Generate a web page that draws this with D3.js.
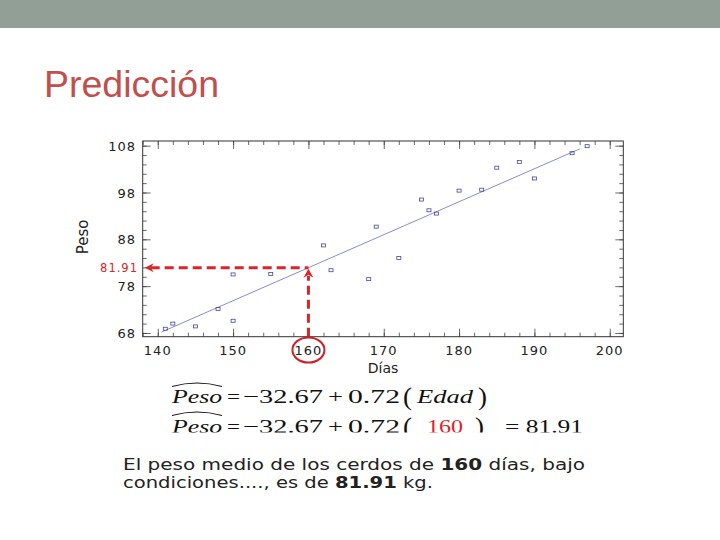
<!DOCTYPE html>
<html lang="es">
<head>
<meta charset="UTF-8">
<title>Predicción</title>
<style>
  body { margin: 0; background: #fff; overflow: hidden; }
  svg { display: block; }
</style>
</head>
<body>
<svg id="slide" width="720" height="540"></svg>
<script src="https://d3js.org/d3.v7.min.js"></script>
<script>
// data
const dias = [141, 142, 145, 148, 150, 150, 155, 162, 163, 168, 169, 172, 175, 176, 177, 180, 183, 185, 188, 190, 195, 197];
const peso = [68.9, 70.0, 69.4, 73.1, 70.6, 80.5, 80.6, 86.7, 81.4, 79.5, 90.7, 84.0, 96.5, 94.2, 93.5, 98.4, 98.6, 103.3, 104.5, 101.0, 106.4, 107.9];
const xTicks = [140, 150, 160, 170, 180, 190, 200];
const yTicks = [68, 78, 88, 98, 108];
// fitted line end points and prediction, as drawn
const lineX = [140.5, 196];
const lineY = [68.2, 107.3];
const edadPred = 160;
const pesoPred = 81.91;
const coefText = ["\u221232.67", "0.72"];

const svg = d3.select("#slide");
const red = "#d8262a";

// header band + title
svg.append("rect").attr("x", 0).attr("y", 0).attr("width", 720).attr("height", 28).attr("fill", "#919f96");
svg.append("text").attr("x", 44).attr("y", 97)
  .attr("font-family", "Liberation Sans, Arial, sans-serif").attr("font-size", 36)
  .attr("fill", "#c0504d").attr("textLength", 175).attr("lengthAdjust", "spacingAndGlyphs")
  .text("Predicción");

// scales
const x = d3.scaleLinear().domain([138, 201.8]).range([142.7, 623.3]);
const y = d3.scaleLinear().domain([67.2, 109]).range([336.7, 141]);

const plot = svg.append("g");
const minorX = d3.range(138, 202, 2);
const minorY = d3.range(68, 109, 2);

// minor + major ticks on all four sides (pointing inward)
function drawTicks(gen, transform, major, minor) {
  const g = plot.append("g").attr("transform", transform);
  g.call(gen.tickValues(minor).tickSize(-4).tickFormat(""));
  g.select(".domain").remove();
  g.selectAll(".tick line").attr("stroke", "#444").attr("stroke-width", 0.8);
  const g2 = plot.append("g").attr("transform", transform);
  g2.call(gen.tickValues(major).tickSize(-8).tickFormat(""));
  g2.select(".domain").remove();
  g2.selectAll(".tick line").attr("stroke", "#444").attr("stroke-width", 0.8);
}
drawTicks(d3.axisBottom(x), `translate(0,${y.range()[0]})`, xTicks, minorX);
drawTicks(d3.axisTop(x), `translate(0,${y.range()[1]})`, xTicks, minorX);
drawTicks(d3.axisLeft(y), `translate(${x.range()[0]},0)`, yTicks, minorY);
drawTicks(d3.axisRight(y), `translate(${x.range()[1]},0)`, yTicks, minorY);

// frame
plot.append("rect")
  .attr("x", x.range()[0]).attr("y", y.range()[1])
  .attr("width", x.range()[1] - x.range()[0]).attr("height", y.range()[0] - y.range()[1])
  .attr("fill", "none").attr("stroke", "#333").attr("stroke-width", 1);

// tick labels
const tickFont = "DejaVu Sans, Verdana, sans-serif";
plot.selectAll(".xl").data(xTicks).join("text")
  .attr("x", d => x(d)).attr("y", 355)
  .attr("text-anchor", "middle").attr("font-family", tickFont).attr("font-size", 13)
  .attr("letter-spacing", 1).attr("fill", "#222").text(d => d);
plot.selectAll(".yl").data(yTicks).join("text")
  .attr("x", 136).attr("y", d => y(d) + 5)
  .attr("text-anchor", "end").attr("font-family", tickFont).attr("font-size", 13)
  .attr("letter-spacing", 1).attr("fill", "#222").text(d => d);

// axis titles
plot.append("text").attr("transform", "translate(88,237) rotate(-90)")
  .attr("text-anchor", "middle").attr("font-family", tickFont).attr("font-size", 15)
  .attr("fill", "#222").text("Peso");
plot.append("text").attr("x", 383).attr("y", 373)
  .attr("text-anchor", "middle").attr("font-family", tickFont).attr("font-size", 14)
  .attr("fill", "#222").text("Días");

// regression line
plot.append("line")
  .attr("x1", x(lineX[0])).attr("y1", y(lineY[0]))
  .attr("x2", x(lineX[1])).attr("y2", y(lineY[1]))
  .attr("stroke", "#6c6cc4").attr("stroke-width", 0.8);

// points
plot.selectAll(".pt").data(dias.map((d, i) => [d, peso[i]])).join("rect")
  .attr("x", d => x(d[0]) - 2).attr("y", d => y(d[1]) - 1.5)
  .attr("width", 4).attr("height", 3)
  .attr("fill", "none").attr("stroke", "#46469c").attr("stroke-width", 0.8);

// prediction guides
const px = x(edadPred), py = y(pesoPred);
plot.append("line")
  .attr("x1", x.range()[0] + 8).attr("y1", py).attr("x2", px).attr("y2", py)
  .attr("stroke", red).attr("stroke-width", 3).attr("stroke-dasharray", "9,5");
plot.append("line")
  .attr("x1", px).attr("y1", y.range()[0]).attr("x2", px).attr("y2", py + 8)
  .attr("stroke", red).attr("stroke-width", 3).attr("stroke-dasharray", "9,5");
// arrow heads
const lx = x.range()[0] + 2;
plot.append("path")
  .attr("d", `M${lx},${py} L${lx + 9},${py - 4.5} L${lx + 6},${py} L${lx + 9},${py + 4.5} Z`)
  .attr("fill", red);
plot.append("path")
  .attr("d", `M${px},${py + 1} L${px - 5},${py + 10} L${px},${py + 7} L${px + 5},${py + 10} Z`)
  .attr("fill", red);
plot.append("text").attr("x", 138).attr("y", py + 4)
  .attr("text-anchor", "end").attr("font-family", tickFont).attr("font-size", 11.5)
  .attr("letter-spacing", 1).attr("fill", red).text(pesoPred.toFixed(2));
plot.append("ellipse").attr("cx", px).attr("cy", 350).attr("rx", 16).attr("ry", 12.5)
  .attr("fill", "none").attr("stroke", "#d21f26").attr("stroke-width", 2);

// equations
const serif = "Liberation Serif, Times New Roman, serif";
function piece(g, txt, x0, x1, base, opts = {}) {
  g.append("text").attr("x", x0).attr("y", base)
    .attr("font-family", serif).attr("font-size", opts.size || 19)
    .attr("font-style", opts.italic ? "italic" : "normal")
    .attr("fill", opts.color || "#111")
    .attr("textLength", x1 - x0).attr("lengthAdjust", "spacingAndGlyphs")
    .text(txt);
}
function hat(g, x0, x1, yy) {
  g.append("path")
    .attr("d", `M${x0},${yy + 3} Q${(x0 + x1) / 2},${yy - 4} ${x1},${yy + 3}`)
    .attr("fill", "none").attr("stroke", "#111").attr("stroke-width", 1.1);
}
const eq1 = svg.append("g");
hat(eq1, 172, 222, 383.5);
piece(eq1, "Peso", 172, 222, 403, { italic: true });
piece(eq1, "=", 227, 240, 403);
piece(eq1, coefText[0], 243, 323, 403);
piece(eq1, "+", 328, 343, 403);
piece(eq1, coefText[1], 348, 400, 403);
piece(eq1, "(", 403, 412, 405, { size: 26 });
piece(eq1, "Edad", 417, 473, 403, { italic: true });
piece(eq1, ")", 478, 487, 405, { size: 26 });

svg.append("clipPath").attr("id", "eqclip")
  .append("rect").attr("x", 0).attr("y", 405).attr("width", 720).attr("height", 27.5);
const eq2 = svg.append("g").attr("clip-path", "url(#eqclip)");
hat(eq2, 172, 222, 412.5);
piece(eq2, "Peso", 172, 222, 433, { italic: true });
piece(eq2, "=", 227, 240, 433);
piece(eq2, coefText[0], 243, 323, 433);
piece(eq2, "+", 328, 343, 433);
piece(eq2, coefText[1], 348, 400, 433);
piece(eq2, "(", 403, 412, 435, { size: 26 });
piece(eq2, String(edadPred), 427, 463, 433, { color: "#d8262a" });
piece(eq2, ")", 475, 484, 435, { size: 26 });
piece(eq2, "= " + pesoPred.toFixed(2), 505, 583, 433);

// conclusion text
const sans = "DejaVu Sans, Verdana, sans-serif";
const t1 = svg.append("text").attr("x", 123).attr("y", 470)
  .attr("font-family", sans).attr("font-size", 15.5).attr("fill", "#222")
  .attr("textLength", 462).attr("lengthAdjust", "spacingAndGlyphs");
t1.append("tspan").text("El peso medio de los cerdos de ");
t1.append("tspan").attr("font-weight", "bold").text(String(edadPred));
t1.append("tspan").text(" días, bajo");
const t2 = svg.append("text").attr("x", 123).attr("y", 488)
  .attr("font-family", sans).attr("font-size", 15.5).attr("fill", "#222")
  .attr("textLength", 310).attr("lengthAdjust", "spacingAndGlyphs");
t2.append("tspan").text("condiciones...., es de ");
t2.append("tspan").attr("font-weight", "bold").text(pesoPred.toFixed(2));
t2.append("tspan").text(" kg.");
</script>
</body>
</html>
